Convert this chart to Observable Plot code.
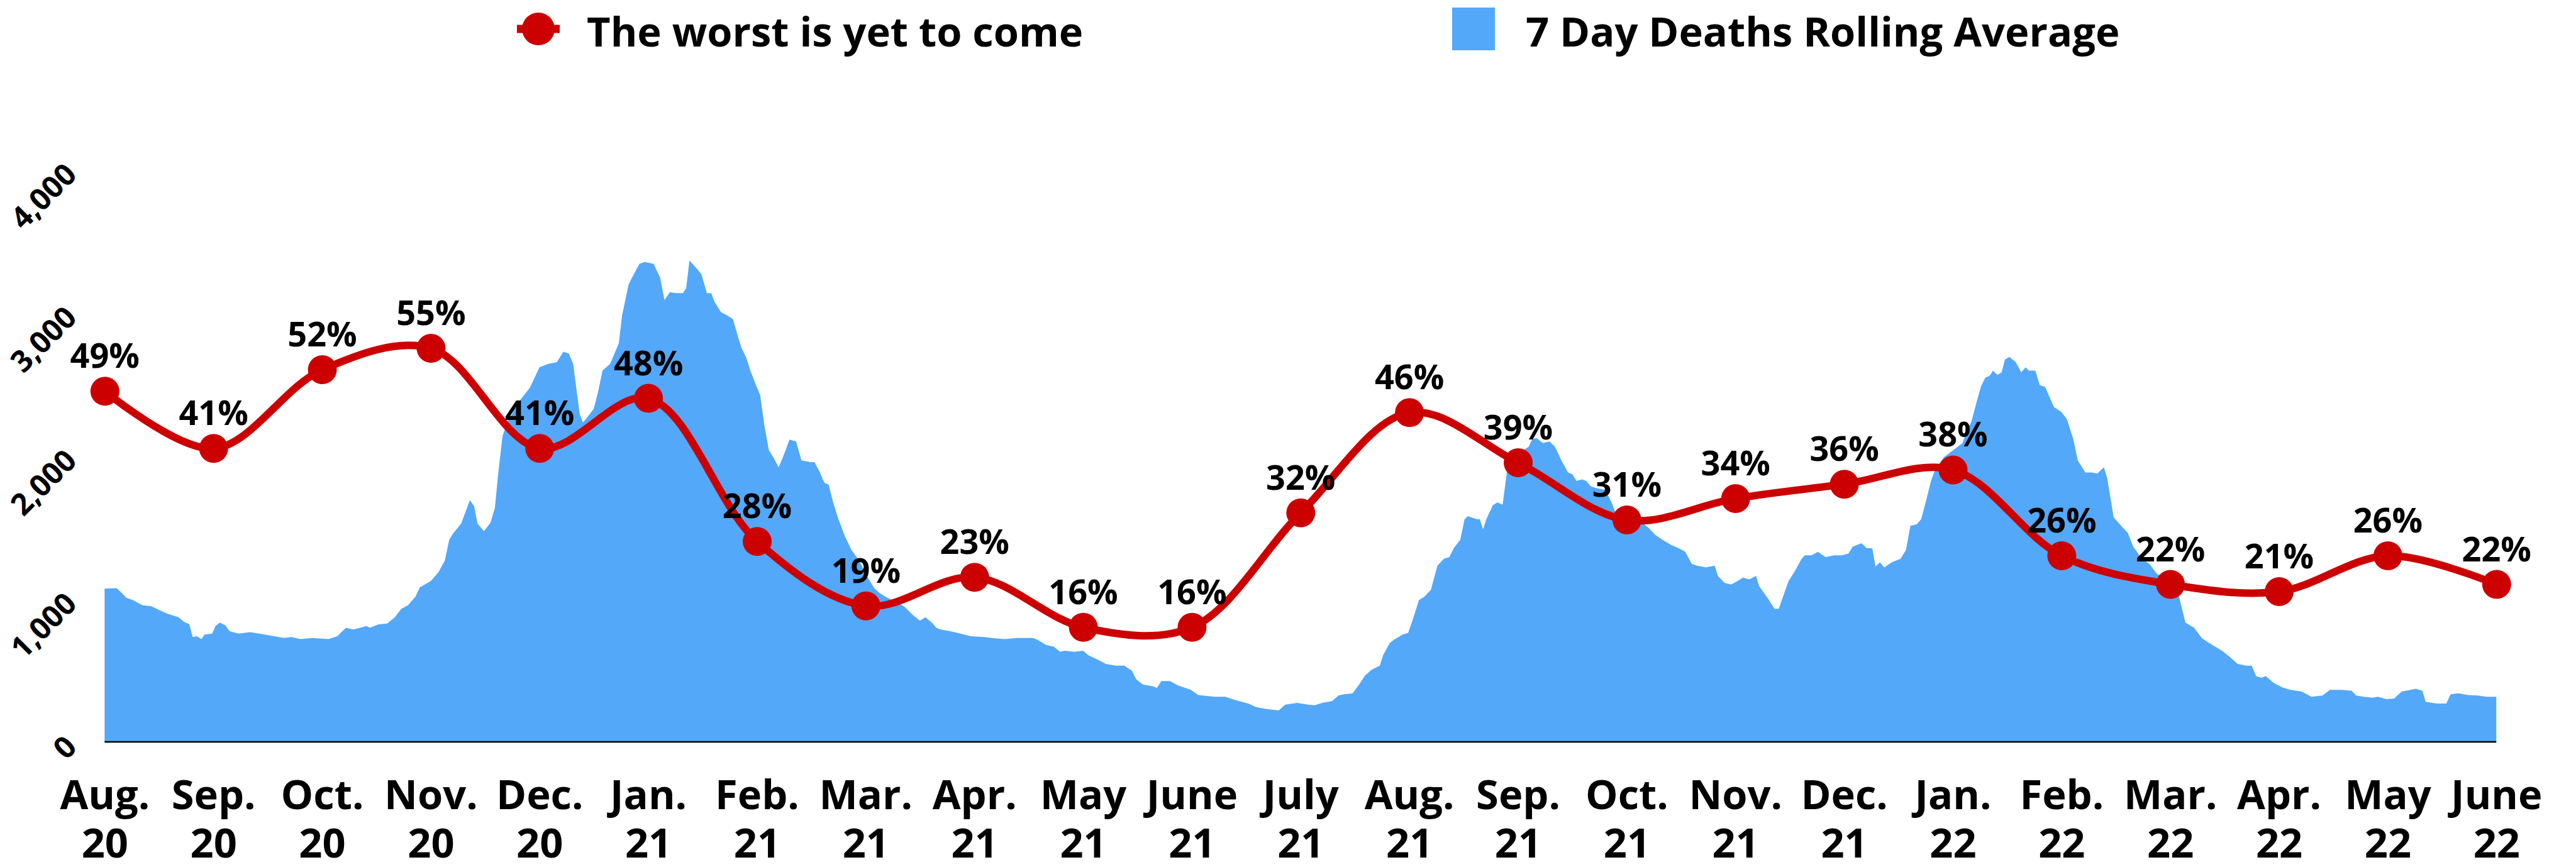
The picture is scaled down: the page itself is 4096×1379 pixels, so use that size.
<!DOCTYPE html>
<html>
<head>
<meta charset="utf-8">
<script src="https://cdn.jsdelivr.net/npm/d3@7"></script>
<script src="https://cdn.jsdelivr.net/npm/@observablehq/plot@0.6"></script>
<style>
  html, body { margin: 0; padding: 0; background: #fff; }
  body { width: 4096px; height: 1379px; overflow: hidden; font-family: "Open Sans", sans-serif; color: #000; }
  #legend { position: relative; width: 4096px; height: 90px; }
  #legend .txt { position: absolute; top: 17px; font-size: 65px; font-weight: 700; line-height: 1; white-space: nowrap; }
  #legend .swatch { position: absolute; left: 2309px; top: 12px; width: 68px; height: 68px; background: #53A8F9; }
  #legend svg { position: absolute; left: 822px; top: 18px; }
  #chart svg { display: block; }
</style>
</head>
<body>
<div id="legend">
  <svg width="68" height="56" viewBox="0 0 68 56">
    <line x1="0" y1="28" x2="68" y2="28" stroke="#CC0000" stroke-width="13"></line>
    <circle cx="34" cy="28" r="26" fill="#CC0000"></circle>
  </svg>
  <span class="txt" style="left:933px">The worst is yet to come</span>
  <div class="swatch"></div>
  <span class="txt" style="left:2426px">7 Day Deaths Rolling Average</span>
</div>
<div id="chart"></div>
<script>
// Month categories along the x axis (two-line labels: month / two-digit year)
const monthLabels = ["Aug.", "Sep.", "Oct.", "Nov.", "Dec.", "Jan.", "Feb.", "Mar.", "Apr.", "May", "June", "July",
                     "Aug.", "Sep.", "Oct.", "Nov.", "Dec.", "Jan.", "Feb.", "Mar.", "Apr.", "May", "June"];
const yearLabels  = ["20", "20", "20", "20", "20", "21", "21", "21", "21", "21", "21", "21",
                     "21", "21", "21", "21", "21", "22", "22", "22", "22", "22", "22"];

// Share answering "the worst is yet to come", one value per month (%)
const worstPct = [49, 41, 52, 55, 41, 48, 28, 19, 23, 16, 16, 32, 46, 39, 31, 34, 36, 38, 26, 22, 21, 26, 22];

// 7-day rolling average of deaths: [months since Aug. 2020, deaths]
const deathsSeries = [
  [0,1068],[0.11,1072],[0.16,1036],[0.20,1005],[0.26,988],[0.35,952],[0.43,945],[0.51,916],[0.58,892],[0.68,868],
  [0.73,836],[0.78,819],[0.81,730],[0.85,735],[0.89,716],[0.92,747],[0.99,754],[1.02,807],[1.06,831],[1.11,812],
  [1.15,771],[1.23,754],[1.34,764],[1.42,754],[1.53,740],[1.65,723],[1.72,730],[1.80,716],[1.91,723],[2.06,716],
  [2.14,735],[2.22,795],[2.29,783],[2.41,807],[2.44,795],[2.52,819],[2.60,824],[2.67,868],[2.73,928],[2.79,952],
  [2.86,1012],[2.90,1077],[3.00,1121],[3.07,1181],[3.13,1265],[3.17,1410],[3.21,1458],[3.28,1523],[3.36,1687],[3.40,1644],
  [3.43,1523],[3.49,1470],[3.55,1530],[3.59,1632],[3.62,1867],[3.66,2133],[3.70,2224],[3.81,2374],[3.91,2470],[4.00,2615],
  [4.08,2639],[4.16,2651],[4.22,2723],[4.27,2711],[4.31,2639],[4.37,2290],[4.40,2229],[4.44,2265],[4.50,2326],[4.54,2446],
  [4.58,2591],[4.65,2639],[4.73,2783],[4.76,2976],[4.82,3193],[4.86,3254],[4.92,3338],[4.97,3350],[5.05,3338],[5.11,3241],
  [5.15,3085],[5.20,3140],[5.26,3133],[5.32,3133],[5.35,3169],[5.38,3362],[5.45,3302],[5.49,3265],[5.54,3133],[5.58,3133],
  [5.61,3073],[5.67,3000],[5.73,2976],[5.78,2952],[5.82,2844],[5.86,2747],[5.90,2687],[5.94,2591],[5.99,2494],[6.03,2422],
  [6.07,2205],[6.11,2036],[6.15,1988],[6.20,1916],[6.24,1988],[6.30,2109],[6.36,2097],[6.41,1964],[6.49,1952],[6.53,1952],
  [6.58,1880],[6.62,1808],[6.66,1795],[6.70,1675],[6.75,1554],[6.81,1434],[6.87,1338],[6.94,1265],[7.02,1145],[7.08,1072],
  [7.13,1036],[7.21,1000],[7.29,976],[7.36,940],[7.44,880],[7.50,844],[7.55,868],[7.61,831],[7.65,795],[7.69,783],
  [7.78,771],[7.88,752],[7.97,735],[8.09,730],[8.16,723],[8.28,716],[8.39,723],[8.54,723],[8.58,711],[8.66,675],
  [8.73,663],[8.79,627],[8.83,634],[8.92,627],[9.00,634],[9.05,603],[9.15,566],[9.21,542],[9.30,530],[9.38,530],
  [9.45,494],[9.49,434],[9.55,398],[9.64,386],[9.68,374],[9.72,422],[9.80,422],[9.87,393],[9.99,362],[10.06,325],
  [10.21,313],[10.31,313],[10.40,289],[10.52,265],[10.59,241],[10.67,229],[10.80,217],[10.86,258],[10.97,270],[11.07,258],
  [11.13,253],[11.21,272],[11.29,282],[11.35,321],[11.40,330],[11.48,337],[11.54,398],[11.59,458],[11.65,499],[11.73,530],
  [11.76,603],[11.82,687],[11.86,711],[11.94,747],[11.99,759],[12.03,844],[12.09,988],[12.14,1012],[12.20,1060],[12.26,1229],
  [12.32,1277],[12.37,1289],[12.41,1350],[12.47,1410],[12.51,1554],[12.54,1574],[12.62,1554],[12.65,1554],[12.68,1482],[12.71,1554],
  [12.77,1651],[12.81,1670],[12.86,1656],[12.89,1832],[12.91,1940],[12.98,2000],[13.10,2060],[13.13,2109],[13.17,2121],[13.23,2085],
  [13.29,2097],[13.34,2061],[13.40,1964],[13.46,1880],[13.50,1868],[13.54,1820],[13.59,1832],[13.63,1820],[13.67,1783],[13.72,1771],
  [13.80,1759],[13.86,1675],[13.91,1578],[14.03,1560],[14.12,1542],[14.20,1494],[14.26,1446],[14.33,1410],[14.41,1374],[14.48,1350],
  [14.54,1325],[14.60,1241],[14.65,1229],[14.73,1217],[14.81,1229],[14.84,1157],[14.90,1109],[14.96,1097],[15.02,1121],[15.07,1145],
  [15.13,1133],[15.19,1157],[15.22,1085],[15.30,1000],[15.36,928],[15.40,928],[15.45,1036],[15.49,1121],[15.55,1193],[15.61,1277],
  [15.64,1301],[15.70,1301],[15.76,1325],[15.83,1289],[15.91,1301],[15.98,1301],[16.04,1313],[16.08,1362],[16.16,1386],[16.21,1350],
  [16.26,1350],[16.29,1222],[16.33,1253],[16.37,1217],[16.44,1253],[16.52,1277],[16.57,1338],[16.61,1506],[16.67,1518],[16.71,1554],
  [16.76,1699],[16.80,1820],[16.84,1904],[16.92,1988],[17.09,2085],[17.13,2181],[17.17,2230],[17.22,2374],[17.26,2482],[17.30,2543],
  [17.34,2555],[17.37,2591],[17.41,2562],[17.45,2579],[17.48,2668],[17.52,2687],[17.58,2651],[17.63,2579],[17.67,2615],[17.70,2591],
  [17.76,2591],[17.80,2490],[17.85,2477],[17.93,2338],[18.00,2302],[18.05,2253],[18.11,2109],[18.15,1964],[18.22,1880],[18.28,1880],
  [18.33,1872],[18.39,1916],[18.42,1844],[18.48,1567],[18.55,1506],[18.61,1458],[18.66,1362],[18.74,1277],[18.81,1241],[18.88,1169],
  [18.99,1145],[19.07,1048],[19.14,831],[19.22,795],[19.29,723],[19.36,687],[19.44,651],[19.49,627],[19.55,590],[19.62,542],
  [19.70,530],[19.75,530],[19.79,458],[19.84,446],[19.88,458],[19.95,410],[20.03,378],[20.10,362],[20.21,349],[20.30,313],
  [20.40,321],[20.47,361],[20.58,361],[20.67,354],[20.71,321],[20.78,313],[20.86,306],[20.91,313],[20.99,296],[21.06,301],
  [21.13,349],[21.21,361],[21.26,369],[21.32,354],[21.35,277],[21.45,265],[21.54,265],[21.58,330],[21.65,337],[21.74,325],
  [21.83,321],[21.91,313],[22.00,313]
];

// Left-axis ticks (deaths); the percentage series shares the frame with 80% at the 4,000 line
const deathTicks = [0, 1000, 2000, 3000, 4000];
const PCT_TO_DEATHS = 4000 / 80;

const RED = "#CC0000";
const BLUE = "#53A8F9";

const deaths = deathsSeries.map(([m, v]) => ({m, v}));
const worst = worstPct.map((p, i) => ({i, p}));

const chart = Plot.plot({
  width: 4096,
  height: 1289,
  marginLeft: 166.3,
  marginRight: 126.7,
  marginTop: 178.9,
  marginBottom: 199.6,
  style: {background: "#fff", color: "#000", overflow: "visible"},
  x: {type: "linear", domain: [0, monthLabels.length - 1]},
  y: {domain: [0, 4000]},
  marks: [
    Plot.areaY(deaths, {x: "m", y: "v", fill: BLUE}),
    Plot.ruleY([0], {stroke: "#000", strokeWidth: 2.5}),
    Plot.line(worst, {x: "i", y: d => d.p * PCT_TO_DEATHS, stroke: RED, strokeWidth: 12, curve: "catmull-rom"}),
    Plot.dot(worst, {x: "i", y: d => d.p * PCT_TO_DEATHS, r: 23, fill: RED, stroke: null}),
    Plot.text(worst, {
      x: "i", y: d => d.p * PCT_TO_DEATHS, text: d => `${d.p}%`,
      dy: -37, lineAnchor: "bottom", fontSize: 54, fontWeight: 700,
      fontFamily: "Open Sans", fill: "#000"
    }),
    Plot.axisY(deathTicks, {
      tickSize: 0, tickPadding: 53, rotate: -45, textAnchor: "end",
      tickFormat: d3.format(","), fontSize: 48, fontWeight: 700,
      fontFamily: "Open Sans", label: null
    }),
    Plot.axisX(d3.range(monthLabels.length), {
      tickSize: 0, tickPadding: 53,
      tickFormat: i => `${monthLabels[i]}\n${yearLabels[i]}`,
      fontSize: 65, fontWeight: 700, lineHeight: 1.177,
      fontFamily: "Open Sans", label: null
    })
  ]
});
document.getElementById("chart").append(chart);
</script>
</body>
</html>
